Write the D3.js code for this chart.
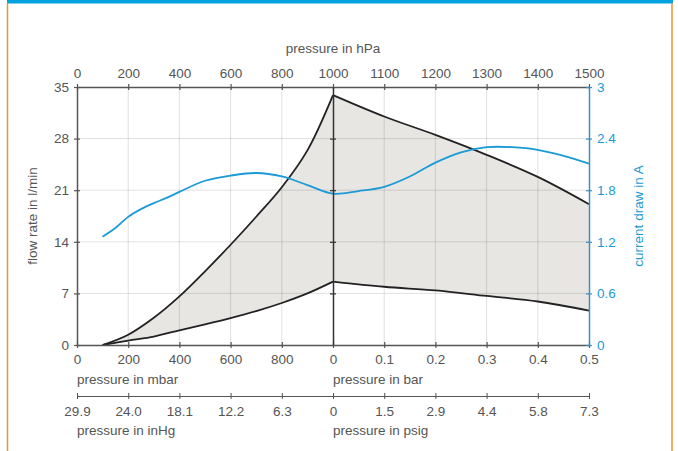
<!DOCTYPE html>
<html>
<head>
<meta charset="utf-8">
<script src="https://cdn.jsdelivr.net/npm/d3@7"></script>
<style>
  html, body { margin: 0; padding: 0; background: #fff; }
  svg { display: block; }
  text { font-family: "Liberation Sans", Arial, sans-serif; font-size: 13.5px; fill: #555; }
</style>
</head>
<body>
<svg id="chart" width="678" height="451"></svg>
<script>
// ---- data ----
const hpaTicks = [0, 200, 400, 600, 800, 1000, 1100, 1200, 1300, 1400, 1500];
const mbarBarLabels = ["0", "200", "400", "600", "800", "0", "0.1", "0.2", "0.3", "0.4", "0.5"];
const inHgPsigLabels = ["29.9", "24.0", "18.1", "12.2", "6.3", "0", "1.5", "2.9", "4.4", "5.8", "7.3"];
const flowTicks = [0, 7, 14, 21, 28, 35];
const currentTicks = [0, 0.6, 1.2, 1.8, 2.4, 3];

const flowPressure = [100, 200, 300, 400, 500, 600, 700, 800, 900, 1000, 1100, 1200, 1300, 1400, 1500];
const maxFlow = [0, 1.4, 3.7, 6.6, 10.0, 13.6, 17.4, 21.4, 26.4, 33.9, 31.0, 28.5, 25.8, 22.8, 19.1];
const minFlow = [0, 0.6, 1.15, 2.0, 2.8, 3.65, 4.6, 5.7, 7.0, 8.6, 7.9, 7.4, 6.65, 5.9, 4.65];

const currentPressure = [100, 150, 200, 250, 300, 350, 400, 500, 600, 700, 800, 900, 1000, 1050, 1100, 1150, 1200, 1250, 1300, 1350, 1400, 1450, 1500];
const currentDraw = [1.26, 1.36, 1.49, 1.58, 1.65, 1.71, 1.78, 1.91, 1.97, 2.0, 1.96, 1.86, 1.76, 1.79, 1.84, 1.96, 2.12, 2.24, 2.30, 2.30, 2.27, 2.20, 2.11];

// ---- layout ----
const svg = d3.select("#chart");
const L = 77, R = 589, T = 87, B = 345, MID = 333;
const x = d3.scaleLinear().domain([0, 1000, 1500]).range([L, MID, R]);
const yF = d3.scaleLinear().domain([0, 35]).range([B, T]);
const yC = d3.scaleLinear().domain([0, 3]).range([B, T]);
const axisCol = "#555";
const blue = "#1a9ad6";
const FONT = '"Liberation Sans", Arial, sans-serif';

// frame
svg.append("rect").attr("x", 7).attr("y", 0).attr("width", 666).attr("height", 3.5).attr("fill", "#00a3e0");
svg.append("line").attr("x1", 7.5).attr("x2", 7.5).attr("y1", 3).attr("y2", 451).attr("stroke", "#f0922e").attr("stroke-width", 1.5);
svg.append("line").attr("x1", 672).attr("x2", 672).attr("y1", 3).attr("y2", 451).attr("stroke", "#f0922e").attr("stroke-width", 1.5);

// shaded area (two halves to keep kink at 1000)
const pts = flowPressure.map((p, i) => ({ p, lo: minFlow[i], hi: maxFlow[i] }));
const leftPts = pts.filter(d => d.p <= 1000);
const rightPts = pts.filter(d => d.p >= 1000);
const crv = d3.curveCatmullRom.alpha(0.5);
const area = d3.area().x(d => x(d.p)).y0(d => yF(d.lo)).y1(d => yF(d.hi)).curve(crv);
[leftPts, rightPts].forEach(seg => {
  svg.append("path").attr("d", area(seg)).attr("fill", "#e7e6e3").attr("stroke", "#e7e6e3").attr("stroke-width", 0.5);
});

// grid
const grid = svg.append("g").attr("stroke", "#000").attr("stroke-opacity", 0.12).attr("stroke-width", 1);
hpaTicks.filter(v => v !== 0 && v !== 1000 && v !== 1500).forEach(v => {
  grid.append("line").attr("x1", x(v)).attr("x2", x(v)).attr("y1", T).attr("y2", B);
});
flowTicks.filter(v => v !== 0 && v !== 35).forEach(v => {
  grid.append("line").attr("x1", L).attr("x2", R).attr("y1", yF(v)).attr("y2", yF(v));
});

// curves
const lineHi = d3.line().x(d => x(d.p)).y(d => yF(d.hi)).curve(crv);
const lineLo = d3.line().x(d => x(d.p)).y(d => yF(d.lo)).curve(crv);
[leftPts, rightPts].forEach(seg => {
  svg.append("path").attr("d", lineHi(seg)).attr("fill", "none").attr("stroke", "#222").attr("stroke-width", 1.8);
  svg.append("path").attr("d", lineLo(seg)).attr("fill", "none").attr("stroke", "#222").attr("stroke-width", 1.8);
});

const cur = currentPressure.map((p, i) => ({ p, a: currentDraw[i] }));
svg.append("path")
  .attr("d", d3.line().x(d => x(d.p)).y(d => yC(d.a)).curve(d3.curveCatmullRom.alpha(0.5))(cur))
  .attr("fill", "none").attr("stroke", blue).attr("stroke-width", 1.8);

// ---- axes ----
function styleAxis(g, col) {
  g.attr("font-family", null).attr("font-size", null);
  g.select(".domain").attr("stroke", col).attr("stroke-width", 1.5);
  g.selectAll(".tick line").attr("stroke", col).attr("stroke-width", 1.2);
  g.selectAll(".tick text").attr("fill", null).style("font-family", FONT).style("font-size", "13.5px").style("fill", "#555");
}

// top axis (hPa)
const gTop = svg.append("g").attr("transform", `translate(0,${T})`)
  .call(d3.axisTop(x).tickValues(hpaTicks).tickSize(3).tickSizeOuter(0).tickPadding(6.5).tickFormat(d3.format("d")));
styleAxis(gTop, axisCol);
gTop.selectAll(".tick line").attr("y1", 3);

// bottom axis (mbar / bar)
const gBot = svg.append("g").attr("transform", `translate(0,${B})`)
  .call(d3.axisBottom(x).tickValues(hpaTicks).tickSize(3).tickSizeOuter(0).tickPadding(6.2)
    .tickFormat((d, i) => mbarBarLabels[i]));
styleAxis(gBot, axisCol);
gBot.selectAll(".tick line").attr("y1", -3);

// second bottom axis (inHg / psig)
const Y2 = 396;
const gBot2 = svg.append("g").attr("transform", `translate(0,${Y2})`)
  .call(d3.axisBottom(x).tickValues(hpaTicks).tickSize(3).tickSizeOuter(0).tickPadding(7.2)
    .tickFormat((d, i) => inHgPsigLabels[i]));
styleAxis(gBot2, axisCol);
gBot2.selectAll(".tick line").attr("y1", -3).attr("stroke-width", 1);
gBot2.select(".domain").attr("stroke-width", 1.2);

// left axis (flow)
const gLeft = svg.append("g").attr("transform", `translate(${L},0)`)
  .call(d3.axisLeft(yF).tickValues(flowTicks).tickSize(3).tickSizeOuter(0).tickPadding(5).tickFormat(d3.format("d")));
styleAxis(gLeft, axisCol);
gLeft.selectAll(".tick line").attr("x1", 3);

// middle line
const gMid = svg.append("g").attr("transform", `translate(${MID},0)`)
  .call(d3.axisLeft(yF).tickValues(flowTicks.filter(v => v > 0 && v < 35)).tickSize(3).tickSizeOuter(0).tickFormat(""));
styleAxis(gMid, "#333");
gMid.selectAll(".tick line").attr("x1", 3);

// right axis (current)
const gRight = svg.append("g").attr("transform", `translate(${R},0)`)
  .call(d3.axisRight(yC).tickValues(currentTicks).tickSize(3).tickSizeOuter(0).tickPadding(5).tickFormat(d => String(d)));
styleAxis(gRight, "#3b8fc2");
gRight.selectAll(".tick line").attr("x1", -3);
gRight.selectAll(".tick text").style("fill", blue);

// ---- titles ----
svg.append("text").attr("x", MID).attr("y", 52.8).attr("text-anchor", "middle").text("pressure in hPa");
svg.append("text").attr("x", L).attr("y", 383.8).text("pressure in mbar");
svg.append("text").attr("x", MID).attr("y", 383.8).text("pressure in bar");
svg.append("text").attr("x", L).attr("y", 434.8).text("pressure in inHg");
svg.append("text").attr("x", MID).attr("y", 434.8).text("pressure in psig");
svg.append("text").attr("transform", `translate(36.8,${(T + B) / 2}) rotate(-90)`).attr("text-anchor", "middle").text("flow rate in l/min");
svg.append("text").attr("transform", `translate(643,${(T + B) / 2}) rotate(-90)`).attr("text-anchor", "middle")
  .style("fill", blue).text("current draw in A");
</script>
</body>
</html>
